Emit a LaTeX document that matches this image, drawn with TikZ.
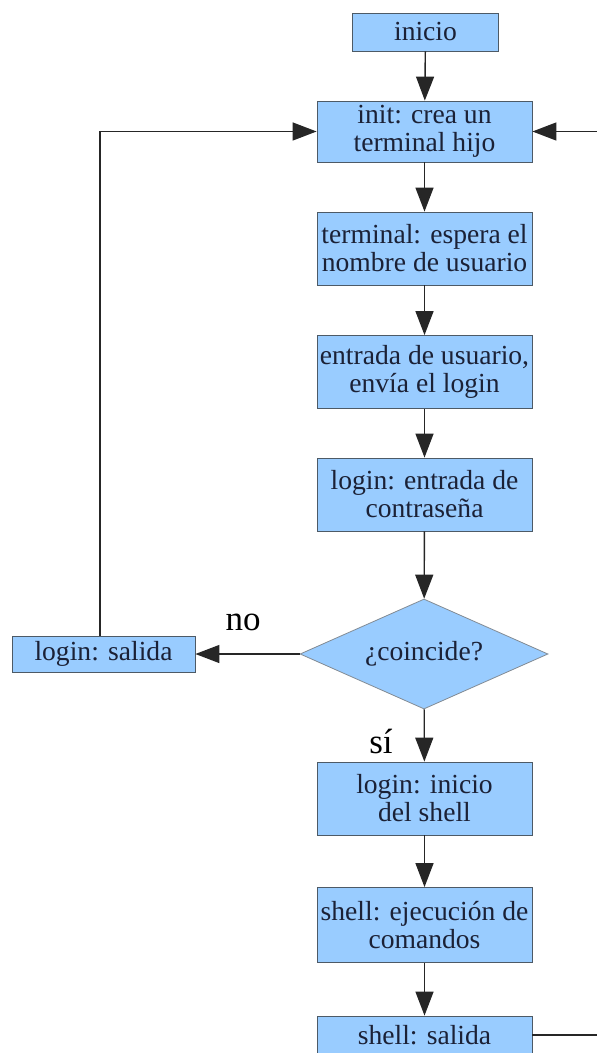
\documentclass[tikz,border=0pt]{standalone}
\usepackage{fontspec}
\setmainfont{Liberation Serif}
\usetikzlibrary{shapes.geometric,arrows.meta}
\definecolor{boxblue}{HTML}{99CCFF}
\definecolor{boxline}{HTML}{4D5A66}
\definecolor{inkblue}{HTML}{1B2136}
\begin{document}
\begin{tikzpicture}[x=0.5pt,y=-0.5pt,
  box/.style={draw=boxline,fill=boxblue,text=inkblue,inner sep=0pt,align=center,
    font=\fontsize{13.8}{14}\selectfont,minimum width=107.5pt,minimum height=36.5pt},
  decide/.style={diamond,aspect=2.25,draw=boxline!70,fill=boxblue,text=inkblue,inner sep=0pt,
    minimum width=124pt,minimum height=55pt,font=\fontsize{13.8}{14}\selectfont},
  link/.style={draw=black!85,line width=0.7pt,-{Triangle[length=12pt,width=9pt]}}]
  \useasboundingbox (0,0) rectangle (597,1053);
  \clip (0,0) rectangle (597,1053);

  % main column
  \node[box,minimum width=73pt,minimum height=19pt] (start) at (425.5,32) {inicio};
  \node[box,minimum height=30.5pt] (init) at (424.5,131.5) {init: crea un\\terminal hijo};
  \node[box] (term) at (424.5,248.5) {terminal: espera el\\nombre de usuario};
  \node[box] (user) at (424.5,372) {entrada de usuario,\\envía el login};
  \node[box] (pass) at (424.5,494.5) {login: entrada de\\contraseña};
  \node[decide] (match) at (424,654) {¿coincide?};
  \node[box] (shell) at (424.5,798.5) {login: inicio\\del shell};
  \node[box,minimum height=37.5pt] (exec) at (424.5,925) {shell: ejecución de\\comandos};
  \node[box,minimum height=19pt] (shexit) at (424.5,1035) {shell: salida};

  % failed login
  \node[box,minimum width=91.5pt,minimum height=18pt] (fail) at (103.5,654) {login: salida};
  \node[font=\fontsize{17.5}{18}\selectfont] (lno) at (243,622) {no};
  \node[font=\fontsize{17.5}{18}\selectfont] (lsi) at (381,741) {sí};

  \draw[link] (start) -- (init);
  \draw[link] (init) -- (term);
  \draw[link] (term) -- (user);
  \draw[link] (user) -- (pass);
  \draw[link] (pass) -- (match);
  \draw[link] (match) -- (fail);
  \draw[link] (match) -- (shell);
  \draw[link] (shell) -- (exec);
  \draw[link] (exec) -- (shexit);

  % loops back to init
  \coordinate (backleft) at (100,131.5);
  \coordinate (backin) at (597,131.5);
  \coordinate (backout) at (597,1035);
  \draw[link] (fail.north -| backleft) -- (backleft) -- (init.west);
  \draw[link] (backin) -- (init.east);
  \draw[draw=black!85,line width=0.7pt] (shexit.east) -- (backout);
\end{tikzpicture}
\end{document}
